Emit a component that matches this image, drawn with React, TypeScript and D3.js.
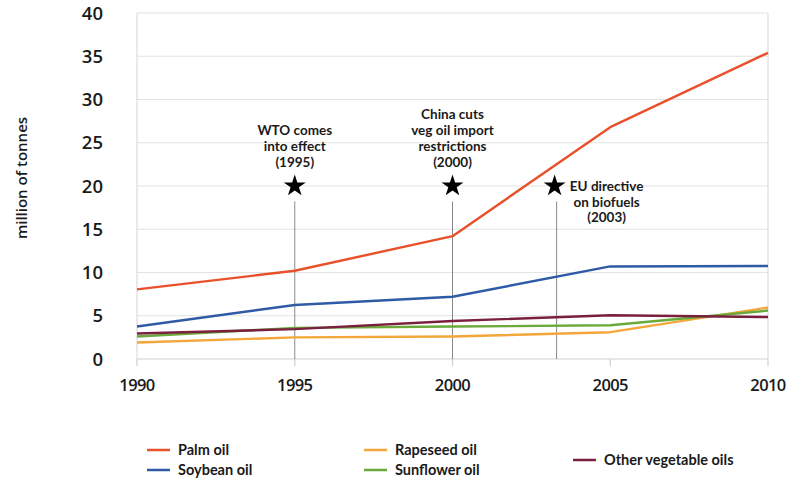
import React from "react";
import * as d3 from "d3";

const years = [1990, 1995, 2000, 2005, 2010];
const palm = [8.05, 10.2, 14.2, 26.8, 35.4];
const soybean = [3.75, 6.25, 7.2, 10.7, 10.75];
const rapeseed = [1.9, 2.5, 2.6, 3.1, 5.95];
const sunflower = [2.6, 3.6, 3.75, 3.9, 5.6];
const other = [2.95, 3.45, 4.4, 5.05, 4.85];
const yTicks = [0, 5, 10, 15, 20, 25, 30, 35, 40];
const xTicks = [1990, 1995, 2000, 2005, 2010];

const seriesNames = ["Palm oil", "Soybean oil", "Rapeseed oil", "Sunflower oil", "Other vegetable oils"];
const seriesColors = ["#e8512b", "#2f5aa6", "#f3a73a", "#6aaa3a", "#7b1f3e"];
const seriesValues = [palm, soybean, rapeseed, sunflower, other];
const drawOrder = [2, 3, 4, 1, 0];

const events = [
  { year: 1995, lines: ["WTO comes", "into effect", "(1995)"], pos: "above" },
  { year: 2000, lines: ["China cuts", "veg oil import", "restrictions", "(2000)"], pos: "above" },
  { year: 2003.3, lines: ["EU directive", "on biofuels", "(2003)"], pos: "right" },
];
const starValue = 20;
const eventLineTop = 18.2;

const legendItems = [
  { idx: 0, col: 0, row: 0 },
  { idx: 1, col: 0, row: 1 },
  { idx: 2, col: 1, row: 0 },
  { idx: 3, col: 1, row: 1 },
  { idx: 4, col: 2, row: 0.5 },
];

const W = 793, H = 487;
const x = d3.scaleLinear().domain([1990, 2010]).range([137, 768]);
const y = d3.scaleLinear().domain([0, 40]).range([359, 13]);

const font = "Lato, 'Open Sans', sans-serif";

export default function App() {
  const line = d3.line<number>().x((_, i) => x(years[i])).y((v) => y(v));
  const star = d3.symbol().type(d3.symbolStar).size(150)() as string;
  return (
    <svg width={W} height={H} style={{ position: "absolute", left: 0, top: 0, background: "#fff" }}>
      {yTicks.map((t) => (
        <line key={"g" + t} x1={x(1990)} x2={x(2010)} y1={y(t)} y2={y(t)} stroke={t === 0 ? "#cfcfcf" : "#e3e3e3"} strokeWidth={1.2} />
      ))}
      <line x1={x(1990)} x2={x(1990)} y1={y(40)} y2={y(0)} stroke="#dcdcdc" strokeWidth={1.2} />
      <line x1={x(2010)} x2={x(2010)} y1={y(40)} y2={y(0)} stroke="#dcdcdc" strokeWidth={1.2} />
      {xTicks.map((t) => (
        <line key={"xt" + t} x1={x(t)} x2={x(t)} y1={y(0)} y2={y(0) + 7} stroke="#cfcfcf" strokeWidth={1.2} />
      ))}
      {yTicks.map((t) => (
        <text key={"yl" + t} x={103} y={y(t) + 6.5} textAnchor="end" fontFamily="'Open Sans', sans-serif" fontWeight={600} fontSize={18.5} fill="#1a1a1a">{t}</text>
      ))}
      {xTicks.map((t) => (
        <text key={"xl" + t} x={x(t)} y={391} textAnchor="middle" fontFamily="'Open Sans', sans-serif" fontWeight={600} fontSize={16.5} fill="#1a1a1a" letterSpacing={-0.6}>{t}</text>
      ))}
      <text transform={`translate(27,${178}) rotate(-90)`} textAnchor="middle" fontFamily="'Open Sans', sans-serif" fontWeight={600} fontSize={15} fill="#1a1a1a">million of tonnes</text>

      {events.map((e, i) => (
        <g key={"ev" + i}>
          <line x1={x(e.year)} x2={x(e.year)} y1={y(eventLineTop)} y2={y(0)} stroke="#6a6a6a" strokeWidth={0.8} />
          <path d={star} transform={`translate(${x(e.year) - (e.pos === "right" ? 2 : 0)},${y(starValue)})`} fill="#000" />
          {e.lines.map((l, j) => {
            const tx = e.pos === "right" ? x(e.year) + 50 : x(e.year);
            const ty = e.pos === "right" ? y(starValue) + 5 + j * 15.5 : y(starValue) - 19 - (e.lines.length - 1 - j) * 16;
            return (
              <text key={j} x={tx} y={ty} textAnchor="middle" fontFamily={font} fontWeight={700} fontSize={13.5} fill="#1a1a1a">{l}</text>
            );
          })}
        </g>
      ))}

      {drawOrder.map((i) => (
        <path key={"s" + i} d={line(seriesValues[i]) as string} fill="none" stroke={seriesColors[i]} strokeWidth={2.4} strokeLinejoin="round" />
      ))}

      {legendItems.map((it) => {
        const lx = [147, 364, 573][it.col];
        const ly = 450 + it.row * 20;
        return (
          <g key={"lg" + it.idx}>
            <line x1={lx} x2={lx + 23} y1={ly} y2={ly} stroke={seriesColors[it.idx]} strokeWidth={2.5} />
            <text x={lx + 31} y={ly + 5} fontFamily={font} fontWeight={700} fontSize={14.5} fill="#1a1a1a">{seriesNames[it.idx]}</text>
          </g>
        );
      })}
    </svg>
  );
}
